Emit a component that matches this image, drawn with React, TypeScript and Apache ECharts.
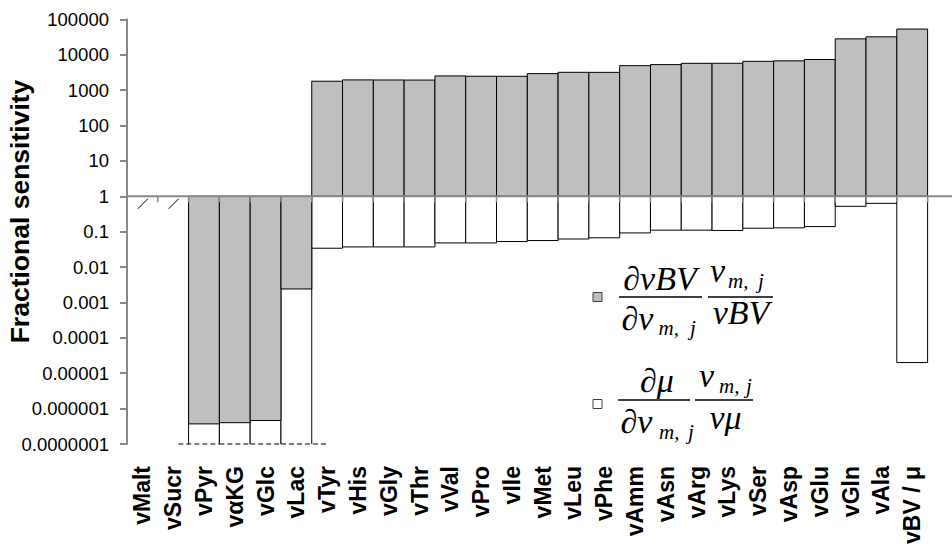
import React, { useEffect, useRef } from 'react';
import * as echarts from 'echarts';

// Reactions along the category axis
const categories = [
  'vMalt', 'vSucr', 'vPyr', 'vαKG', 'vGlc', 'vLac', 'vTyr', 'vHis', 'vGly', 'vThr',
  'vVal', 'vPro', 'vIle', 'vMet', 'vLeu', 'vPhe', 'vAmm', 'vAsn', 'vArg', 'vLys',
  'vSer', 'vAsp', 'vGlu', 'vGln', 'vAla', 'vBV / μ',
];

// (∂vBV/∂v_mj)(v_mj/vBV); null = not applicable
const biovolumeSensitivity: (number | null)[] = [
  null, null, 3.7e-7, 4.0e-7, 4.6e-7, 0.0024, 1780, 1940, 1930, 1920,
  2510, 2460, 2450, 2920, 3180, 3170, 4900, 5250, 5700, 5720,
  6500, 6700, 7300, 28000, 32000, 53000,
];

// (∂μ/∂v_mj)(v_mj/vμ); null = not applicable, 0 = below the axis floor
const growthSensitivity: (number | null)[] = [
  null, null, 0, 0, 0, 0, 0.034, 0.037, 0.037, 0.037,
  0.048, 0.048, 0.0525, 0.056, 0.062, 0.067, 0.092, 0.11, 0.11, 0.108,
  0.125, 0.128, 0.139, 0.52, 0.63, 0.00002,
];

const yTickLabels = [
  '0.0000001', '0.000001', '0.00001', '0.0001', '0.001', '0.01', '0.1',
  '1', '10', '100', '1000', '10000', '100000',
];

// The value axis holds decimal exponents (log10 of the sensitivity)
const Y_MIN_EXP = -7;
const Y_MAX_EXP = 5;

const GRAY = '#bfbfbf';
const AXIS_GRAY = '#898989';
const SANS = '"Liberation Sans", Arial, sans-serif';
const SERIF = '"Liberation Serif", "Times New Roman", serif';

function barSeries(name: string, values: (number | null)[], fill: string) {
  return {
    type: 'custom',
    name,
    data: categories.map((_, i) => [i, 0]),
    renderItem: (_params: any, api: any) => {
      const i = api.value(0);
      const v = values[i];
      if (v === null || v === undefined) return null;
      const band = api.size([1, 0])[0];
      const base = api.coord([i, 0]);
      const x0 = base[0] - band / 2;
      const y1 = base[1];
      if (v > 0) {
        const y2 = api.coord([i, Math.log10(v)])[1];
        return {
          type: 'rect',
          shape: { x: x0, y: Math.min(y1, y2), width: band, height: Math.abs(y2 - y1) },
          style: { fill, stroke: '#000', lineWidth: 1 },
        };
      }
      // below the axis floor: clipped there, with a dashed open bottom
      const yFloor = api.coord([i, Y_MIN_EXP])[1];
      const prevClipped = values[i - 1] === 0;
      const nextClipped = values[i + 1] === 0;
      const dashFrom = prevClipped ? x0 : x0 - band / 3;
      const dashTo = nextClipped ? x0 + band : x0 + band * 1.48;
      return {
        type: 'group',
        children: [
          { type: 'rect', shape: { x: x0, y: y1, width: band, height: yFloor - y1 }, style: { fill, stroke: null } },
          { type: 'line', shape: { x1: x0, y1, x2: x0, y2: yFloor }, style: { stroke: '#000', lineWidth: 1 } },
          { type: 'line', shape: { x1: x0 + band, y1, x2: x0 + band, y2: yFloor }, style: { stroke: '#000', lineWidth: 1 } },
          {
            type: 'line',
            shape: { x1: dashFrom, y1: yFloor, x2: dashTo, y2: yFloor },
            style: { stroke: '#000', lineWidth: 1, lineDash: [5, 3] },
          },
        ],
      };
    },
  };
}

// Baseline at 1, category ticks on it, and slashes for reactions without a value
const baselineSeries = {
  type: 'custom',
  name: 'baseline',
  data: categories.map((_, i) => [i, 0]),
  renderItem: (_params: any, api: any) => {
    const i = api.value(0);
    const band = api.size([1, 0])[0];
    const base = api.coord([i, 0]);
    const cx = base[0];
    const y1 = base[1];
    const x0 = cx - band / 2;
    const children: any[] = [];
    const tick = (x: number) => ({
      type: 'line',
      shape: { x1: x, y1, x2: x, y2: y1 + 6 },
      style: { stroke: AXIS_GRAY, lineWidth: 1.5 },
    });
    if (i === 0) {
      children.push({
        type: 'line',
        shape: { x1: x0, y1, x2: api.getWidth(), y2: y1 },
        style: { stroke: AXIS_GRAY, lineWidth: 2 },
      });
    } else {
      children.push(tick(x0));
    }
    if (i === categories.length - 1) children.push(tick(x0 + band));
    if (biovolumeSensitivity[i] === null && growthSensitivity[i] === null) {
      children.push({
        type: 'line',
        shape: { x1: cx - 4.5, y1: y1 + 12.5, x2: cx + 5.5, y2: y1 + 2.5 },
        style: { stroke: '#000', lineWidth: 1 },
      });
    }
    return { type: 'group', children };
  },
};

// Italic serif text placed by its alphabetic baseline
function mathText(text: string, x: number, baseline: number, size: number, align: string = 'left') {
  return {
    type: 'text',
    x,
    y: baseline - 0.3375 * size,
    style: {
      text,
      fontFamily: SERIF,
      fontStyle: 'italic',
      fontSize: size,
      fill: '#000',
      align,
      verticalAlign: 'middle',
      textAlign: align,
      textVerticalAlign: 'middle',
    },
  };
}

function fractionBar(x1: number, x2: number, y: number) {
  return { type: 'line', shape: { x1, y1: y, x2, y2: y }, style: { stroke: '#000', lineWidth: 1.3 } };
}

function legendSquare(cy: number, fill: string) {
  return {
    type: 'rect',
    shape: { x: 593, y: cy - 4.5, width: 9, height: 9 },
    style: { fill, stroke: '#404040', lineWidth: 1 },
  };
}

const Y1 = 297;
const Y2 = 400;
const MAIN = 34;
const SUB = 21;

const legendGraphics = [
  legendSquare(Y1, GRAY),
  fractionBar(619, 702, Y1),
  mathText('∂vBV', 660, Y1 - 7, MAIN, 'center'),
  mathText('∂v', 621.5, Y1 + 32.5, MAIN),
  mathText('m,', 658.5, Y1 + 38, SUB),
  mathText('j', 690, Y1 + 38, SUB),
  fractionBar(708, 773, Y1),
  mathText('v', 710, Y1 - 15, MAIN),
  mathText('m,', 728, Y1 - 8.5, SUB),
  mathText('j', 758, Y1 - 8.5, SUB),
  mathText('vBV', 741, Y1 + 27, MAIN, 'center'),

  legendSquare(Y2 + 4, '#ffffff'),
  fractionBar(618, 690, Y2),
  mathText('∂μ', 657, Y2 - 8, MAIN, 'center'),
  mathText('∂v', 620.5, Y2 + 33, MAIN),
  mathText('m,', 659, Y2 + 39, SUB),
  mathText('j', 688, Y2 + 39, SUB),
  fractionBar(695, 753, Y2),
  mathText('v', 699, Y2 - 13, MAIN),
  mathText('m,', 719, Y2 - 7, SUB),
  mathText('j', 746, Y2 - 7, SUB),
  mathText('vμ', 725.5, Y2 + 29, MAIN, 'center'),
];

export default function App() {
  const ref = useRef<HTMLDivElement>(null);

  useEffect(() => {
    if (!ref.current) return;
    const chart = echarts.init(ref.current, undefined, { renderer: 'svg' });
    chart.setOption({
      animation: false,
      backgroundColor: '#ffffff',
      grid: {
        left: 127,
        top: 19.3,
        right: 24.4,
        bottom: 100,
        containLabel: false,
        outerBoundsMode: 'none',
      },
      xAxis: {
        type: 'category',
        data: categories,
        position: 'bottom',
        axisLine: { show: false, onZero: false },
        axisTick: { show: false },
        splitLine: { show: false },
        axisLabel: {
          interval: 0,
          rotate: 90,
          margin: 22,
          fontFamily: SANS,
          fontWeight: 'bold',
          fontSize: 23,
          color: '#000',
        },
      },
      yAxis: {
        type: 'value',
        min: Y_MIN_EXP,
        max: Y_MAX_EXP,
        interval: 1,
        axisLine: { show: true, lineStyle: { color: AXIS_GRAY, width: 2 } },
        axisTick: { show: true, inside: false, length: 7, lineStyle: { color: AXIS_GRAY, width: 2 } },
        splitLine: { show: false },
        axisLabel: {
          margin: 18,
          fontFamily: SANS,
          fontSize: 18.5,
          color: '#000',
          formatter: (val: number) => yTickLabels[Math.round(val) - Y_MIN_EXP],
        },
      },
      graphic: [
        {
          type: 'text',
          x: 20,
          y: 211.5,
          rotation: Math.PI / 2,
          style: {
            text: 'Fractional sensitivity',
            fontFamily: SANS,
            fontWeight: 'bold',
            fontSize: 26.5,
            fill: '#000',
            align: 'center',
            verticalAlign: 'middle',
            textAlign: 'center',
            textVerticalAlign: 'middle',
          },
        },
        ...legendGraphics,
      ],
      series: [
        barSeries('growth', growthSensitivity, '#ffffff'),
        barSeries('biovolume', biovolumeSensitivity, GRAY),
        baselineSeries,
      ],
    });
    return () => chart.dispose();
  }, []);

  return (
    <div
      ref={ref}
      style={{ position: 'fixed', left: 0, top: 0, width: 952, height: 544, background: '#fff' }}
    />
  );
}
